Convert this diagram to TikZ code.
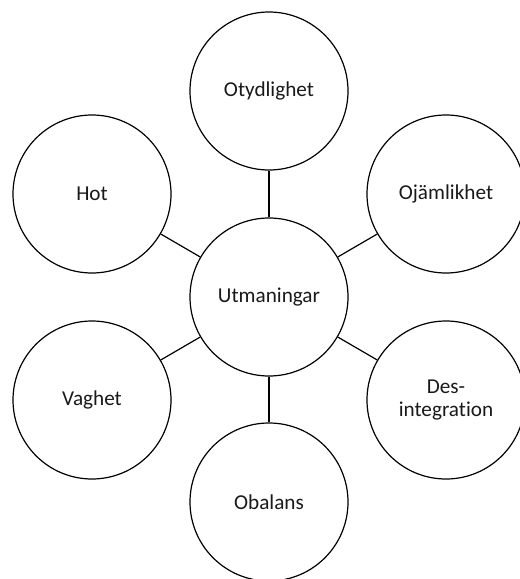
\documentclass[tikz,border=0pt]{standalone}
\usepackage{fontspec}
\setmainfont[Ligatures=NoCommon]{Carlito}
\begin{document}
\begin{tikzpicture}[x=1pt,y=-1pt,
  bubble/.style={circle,draw=black,line width=1.2pt,minimum size=158pt,inner sep=0pt,align=center,
    font=\fontsize{21.2}{23.5}\selectfont,text=black!90},
  link/.style={draw=black,line width=1.2pt}]
\useasboundingbox (0,0) rectangle (520,579);
\clip (0,0) rectangle (520,579);
\node[bubble] (c) at (269,297) {Utmaningar};
\node[bubble] (t) at (269,91) {Otydlighet};
\node[bubble] (hot) at (92,194) {Hot};
\node[bubble] (oj) at (446,194) {Ojämlikhet};
\node[bubble] (va) at (92,400) {Vaghet};
\node[bubble] (di) at (446,400) {Des-\\integration};
\node[bubble] (ob) at (269,502) {Obalans};
\draw[link] (c) -- (t);
\draw[link] (c) -- (hot);
\draw[link] (c) -- (oj);
\draw[link] (c) -- (va);
\draw[link] (c) -- (di);
\draw[link] (c) -- (ob);
\end{tikzpicture}
\end{document}
